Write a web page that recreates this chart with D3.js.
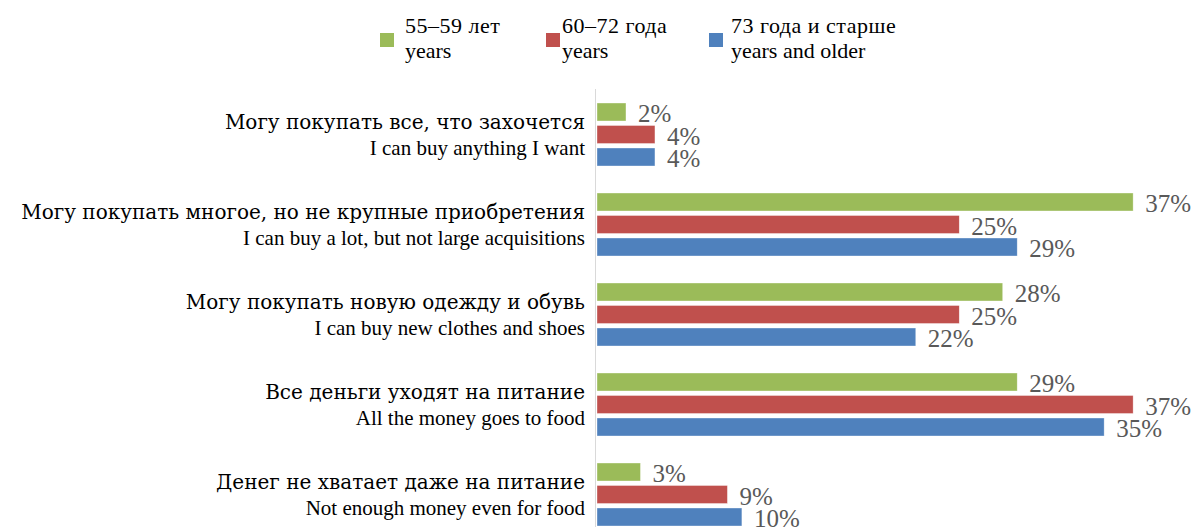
<!DOCTYPE html>
<html>
<head>
<meta charset="utf-8">
<script src="https://cdn.jsdelivr.net/npm/d3@7"></script>
<style>
  body { margin: 0; background: #fff; }
</style>
</head>
<body>
<svg id="chart" width="1197" height="527" font-family="'Liberation Serif', 'Times New Roman', serif"></svg>
<script>
// categories, two lines each (ru / en)
const categoriesRu = [
  'Могу покупать все, что захочется',
  'Могу покупать многое, но не крупные приобретения',
  'Могу покупать новую одежду и обувь',
  'Все деньги уходят на питание',
  'Денег не хватает даже на питание'
];
const categoriesEn = [
  'I can buy anything I want',
  'I can buy a lot, but not large acquisitions',
  'I can buy new clothes and shoes',
  'All the money goes to food',
  'Not enough money even for food'
];
const seriesRu = ['55–59 лет', '60–72 года', '73 года и старше'];
const seriesEn = ['years', 'years', 'years and older'];
const age55 = [2, 37, 28, 29, 3];
const age60 = [4, 25, 25, 37, 9];
const age73 = [4, 29, 22, 35, 10];

const colors = ['#9bbb59', '#c0504d', '#4f81bd'];
const h = 527;
const left = 597;
const cyr = "'DejaVu Serif', 'Liberation Serif', serif";

const svg = d3.select('#chart');
const values = [age55, age60, age73];
const keys = seriesRu.map((d, i) => 's' + i);

const data = categoriesRu.map((c, i) => ({
  ru: c,
  en: categoriesEn[i],
  vals: values.map((s, j) => ({ key: keys[j], v: s[i], color: colors[j] }))
}));

const x = d3.scaleLinear()
  .domain([0, 40])
  .range([left, left + 40 * 14.49]);

const y0 = d3.scaleBand()
  .domain(categoriesRu)
  .range([89.5, 539.5])
  .paddingInner(0.3)
  .paddingOuter(0.15);

const y1 = d3.scaleBand()
  .domain(keys)
  .range([0, y0.bandwidth()])
  .paddingInner(0.2);

// axis line
svg.append('line')
  .attr('x1', left - 1.5).attr('x2', left - 1.5)
  .attr('y1', 89).attr('y2', h)
  .attr('stroke', '#d9d9d9')
  .attr('stroke-width', 1);

const groups = svg.selectAll('.group')
  .data(data)
  .enter()
  .append('g')
  .attr('class', 'group')
  .attr('transform', (d) => `translate(0, ${y0(d.ru)})`);

groups.selectAll('rect')
  .data((d) => d.vals)
  .enter()
  .append('rect')
  .attr('x', x(0))
  .attr('y', (d) => y1(d.key))
  .attr('width', (d) => x(d.v) - x(0))
  .attr('height', y1.bandwidth())
  .attr('fill', (d) => d.color)
  .attr('stroke', 'rgba(255,255,255,0.6)')
  .attr('stroke-width', 0.6);

groups.selectAll('.val')
  .data((d) => d.vals)
  .enter()
  .append('text')
  .attr('class', 'val')
  .attr('x', (d) => x(d.v) + 12)
  .attr('y', (d) => y1(d.key) + y1.bandwidth() / 2 + 1.5)
  .attr('dominant-baseline', 'central')
  .attr('fill', '#595959')
  .attr('font-size', 25)
  .text((d) => d.v + '%');

// category labels
const lab = groups.append('text')
  .attr('text-anchor', 'end')
  .attr('fill', '#000')
  .attr('font-size', 21);
lab.append('tspan')
  .attr('x', 585)
  .attr('y', y0.bandwidth() / 2 - 5.5)
  .attr('font-family', cyr)
  .attr('font-size', 20)
  .text((d) => d.ru);
lab.append('tspan')
  .attr('x', 585)
  .attr('y', y0.bandwidth() / 2 + 20.5)
  .text((d) => d.en);

// legend
const legendX = [380, 546, 709];
const legendGap = [25, 16, 22];
const legend = svg.selectAll('.legend')
  .data(seriesRu)
  .enter()
  .append('g')
  .attr('class', 'legend')
  .attr('transform', (d, i) => `translate(${legendX[i]}, 0)`);

legend.append('rect')
  .attr('x', 0)
  .attr('y', 33)
  .attr('width', 14)
  .attr('height', 14)
  .attr('fill', (d, i) => colors[i]);

const lt = legend.append('text')
  .attr('font-size', 22)
  .attr('fill', '#000');
lt.append('tspan')
  .attr('x', (d, i) => legendGap[i])
  .attr('y', 33)
  .attr('letter-spacing', 0.5)
  .text((d) => d);
lt.append('tspan')
  .attr('x', (d, i) => legendGap[i])
  .attr('y', 58)
  .text((d, i) => seriesEn[i]);
</script>
</body>
</html>
